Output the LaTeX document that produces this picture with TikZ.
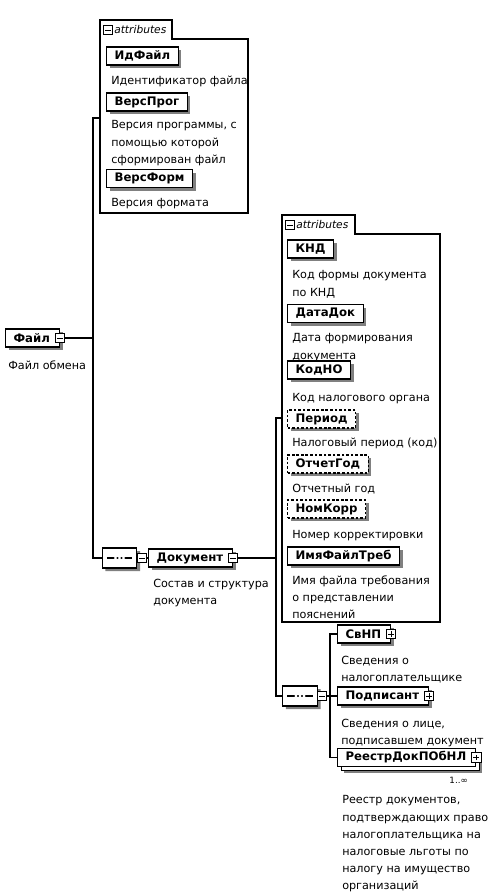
\documentclass[tikz,border=0pt]{standalone}
\usepackage{fontspec}
\setmainfont{DejaVu Sans}
\usepackage{tikz}
\usetikzlibrary{shapes.misc,shadows}

\newcommand{\iconpad}{\kern1pt}
\tikzset{
  elem/.style={draw, fill=white, line width=0.9pt, font=\bfseries\fontsize{8.8}{10}\selectfont,
    inner xsep=6pt, inner ysep=0pt, minimum height=13.5pt,
    drop shadow={shadow xshift=2.4pt, shadow yshift=-2.4pt, fill=black!50, opacity=1}},
  optattr/.style={elem, dash pattern=on 2pt off 1.4pt},
  multielem/.style={elem, drop shadow={shadow xshift=5pt, shadow yshift=-5pt, fill=black!50, opacity=1},
    copy shadow={shadow xshift=3pt, shadow yshift=-3pt, fill=white, draw=black, line width=0.8pt}},
  desc/.style={anchor=north west, inner sep=0pt, align=left, font=\fontsize{8.4}{12.9}\selectfont},
  attrtitle/.style={anchor=west, inner sep=0pt, font=\itshape\fontsize{8}{9}\selectfont},
  minusbox/.style={draw, fill=white, line width=0.6pt, minimum size=7pt, inner sep=0pt,
    path picture={\draw[line width=0.7pt, shorten <=1.4pt, shorten >=1.4pt]
      (path picture bounding box.west) -- (path picture bounding box.east);}},
  plusbox/.style={minusbox, path picture={\draw[line width=0.7pt, shorten <=1.4pt, shorten >=1.4pt]
      (path picture bounding box.west) -- (path picture bounding box.east);
      \draw[line width=0.7pt, shorten <=1.4pt, shorten >=1.4pt]
      (path picture bounding box.south) -- (path picture bounding box.north);}},
  seqbox/.style={chamfered rectangle, chamfered rectangle sep=4pt, draw, fill=white, line width=0.9pt,
    minimum width=26pt, minimum height=15pt, inner sep=0pt,
    drop shadow={shadow xshift=2.4pt, shadow yshift=-2.4pt, fill=black!50, opacity=1},
    path picture={\draw[line width=0.8pt] ([xshift=3.5pt]path picture bounding box.west) -- ([xshift=-3.5pt]path picture bounding box.east);
      \foreach \dx in {-3,0,3} \fill ([xshift=\dx pt]path picture bounding box.center) circle (1.3pt);}},
  attrbox/.style={line width=0.8pt},
  conn/.style={line width=0.8pt}
}

\begin{document}
\begin{tikzpicture}[x=0.75pt,y=0.75pt,yscale=-1,xscale=1]
\useasboundingbox (0,0) rectangle (500,892);

%Attribute group of Файл
\draw [attrbox] (100,39) -- (100,20) -- (172,20) -- (172,39) -- (248,39) -- (248,213) -- (100,213) -- cycle ;
\node [minusbox] (attrAicon) at (108,30) {};
\node [attrtitle] (attrAtitle) at (114,30) {attributes};
\coordinate (attrA) at (100,118);

\node [elem, anchor=west] (idfile) at (106,56) {ИдФайл};
% Text Node
\node [desc] (idfileD) at (111,75.5) {Идентификатор файла};
\node [elem, anchor=west] (versprog) at (106,102) {ВерсПрог};
% Text Node
\node [desc] (versprogD) at (111,120.5) {Версия программы, с\\помощью которой\\сформирован файл};
\node [elem, anchor=west] (versform) at (106,178.5) {ВерсФорм};
% Text Node
\node [desc] (versformD) at (111,198.5) {Версия формата};

%Root element
\node [elem, anchor=west] (file) at (5,338) {Файл\iconpad};
\node [minusbox] (fileicon) at (file.east) {};
% Text Node
\node [desc] (fileD) at (8,360.5) {Файл обмена};
\coordinate (fileFork) at (93,338);

%Sequence under Файл
\node [seqbox] (seqA) at (119.5,558) {};
\node [minusbox] (seqAicon) at (142,558) {};
\node [elem, anchor=west] (doc) at (148,558) {Документ\iconpad};
\node [minusbox] (docicon) at (doc.east) {};
% Text Node
\node [desc] (docD) at (153,578.5) {Состав и структура\\документа};
\coordinate (docFork) at (276,558);

%Straight Lines
\draw [conn] (fileicon.east) -- (fileFork) ;
\draw [conn] (attrA) -| (fileFork) |- (seqA.west) ;
\draw [conn] (seqA.east) -- (seqAicon.west) ;
\draw [conn] (seqAicon.east) -- (doc.west) ;

%Attribute group of Документ
\draw [attrbox] (282,234) -- (282,215) -- (355,215) -- (355,234) -- (440,234) -- (440,622) -- (282,622) -- cycle ;
\node [minusbox] (attrBicon) at (290,225) {};
\node [attrtitle] (attrBtitle) at (296,225) {attributes};
\coordinate (attrB) at (282,418);

\node [elem, anchor=west] (knd) at (287,249) {КНД};
% Text Node
\node [desc] (kndD) at (292,270.5) {Код формы документа\\по КНД};
\node [elem, anchor=west] (datadok) at (287,313.5) {ДатаДок};
% Text Node
\node [desc] (datadokD) at (292,333.5) {Дата формирования\\документа};
\node [elem, anchor=west] (kodno) at (287,370) {КодНО};
% Text Node
\node [desc] (kodnoD) at (292,393.5) {Код налогового органа};
\node [optattr, anchor=west] (period) at (287,419) {Период};
% Text Node
\node [desc] (periodD) at (292,437.5) {Налоговый период (код)};
\node [optattr, anchor=west] (otchgod) at (287,464) {ОтчетГод};
% Text Node
\node [desc] (otchgodD) at (292,483.5) {Отчетный год};
\node [optattr, anchor=west] (nomkorr) at (287,509) {НомКорр};
% Text Node
\node [desc] (nomkorrD) at (292,530.5) {Номер корректировки};
\node [elem, anchor=west] (imyatreb) at (287,556) {ИмяФайлТреб};
% Text Node
\node [desc] (imyatrebD) at (292,575.5) {Имя файла требования\\о представлении\\пояснений};

%Sequence under Документ
\node [seqbox] (seqB) at (300,696) {};
\node [minusbox] (seqBicon) at (322,696) {};
\coordinate (seqBFork) at (330,696);

\node [elem, anchor=west] (svnp) at (337,634) {СвНП\iconpad};
\node [plusbox] (svnpicon) at (svnp.east) {};
% Text Node
\node [desc] (svnpD) at (341,655.5) {Сведения о\\налогоплательщике};
\node [elem, anchor=west] (podp) at (337,696) {Подписант\iconpad};
\node [plusbox] (podpicon) at (podp.east) {};
% Text Node
\node [desc] (podpD) at (341,718.5) {Сведения о лице,\\подписавшем документ};
\node [multielem, anchor=west] (reestr) at (337,757.5) {РеестрДокПОбНЛ\iconpad};
\node [plusbox] (reestricon) at (reestr.east) {};
\node [anchor=north east, inner sep=0pt, font=\fontsize{6.5}{8}\selectfont] (reestrM) at (468,777) {1..∞};
% Text Node
\node [desc] (reestrD) at (342,795.5) {Реестр документов,\\подтверждающих право\\налогоплательщика на\\налоговые льготы по\\налогу на имущество\\организаций};

%Straight Lines
\draw [conn] (docicon.east) -- (docFork) ;
\draw [conn] (attrB) -| (docFork) |- (seqB.west) ;
\draw [conn] (seqB.east) -- (seqBicon.west) ;
\draw [conn] (seqBicon.east) -- (seqBFork) ;
\draw [conn] (svnp.west) -| (seqBFork) |- (reestr.west) ;
\draw [conn] (podp.west) -- (seqBFork) ;

\end{tikzpicture}
\end{document}
